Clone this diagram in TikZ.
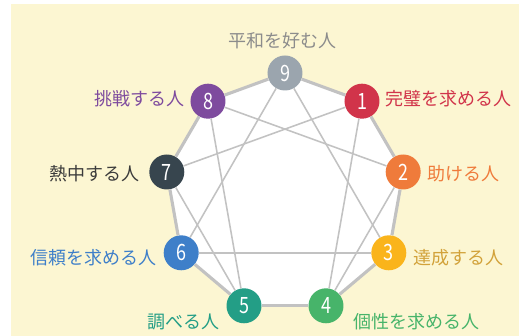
\documentclass[tikz,border=0pt]{standalone}
\usepackage{fontspec}
\setmainfont{Noto Sans CJK JP}
\usetikzlibrary{positioning}

\definecolor{paper}{HTML}{FCF6D2}
\definecolor{edge}{HTML}{C2C2C2}
\definecolor{type1}{HTML}{D1344A}
\definecolor{type2}{HTML}{EF7B3B}
\definecolor{type3}{HTML}{FAB41B}
\definecolor{type4}{HTML}{47B46A}
\definecolor{type5}{HTML}{239E86}
\definecolor{type6}{HTML}{3E7FC9}
\definecolor{type7}{HTML}{37454E}
\definecolor{type8}{HTML}{7E4B9E}
\definecolor{type9}{HTML}{9BA5AE}
\definecolor{text3}{HTML}{D2A23A}
\definecolor{text7}{HTML}{3B3B3B}
\definecolor{text9}{HTML}{8C8C8C}

\begin{document}
\begin{tikzpicture}
[type node/.style={circle,minimum size=0.875cm,inner sep=0pt,text=white,font=\fontsize{16}{16}\selectfont},
  type label/.style={inner sep=0pt,font=\fontsize{12.8}{15}\selectfont},
  outer/.style={draw=edge,line width=2.2pt},
  inner/.style={draw=edge,line width=1.1pt}]

  \useasboundingbox (0,0) rectangle (12.975,8.4);
  \fill[paper] (0.275,0) rectangle (12.975,8.3);

  \coordinate (p9) at (7.125,6.575);
  \coordinate (p1) at (9.05,5.87);
  \coordinate (p2) at (10.08,4.1);
  \coordinate (p3) at (9.72,2.08);
  \coordinate (p4) at (8.15,0.755);
  \coordinate (p5) at (6.10,0.755);
  \coordinate (p6) at (4.53,2.08);
  \coordinate (p7) at (4.17,4.1);
  \coordinate (p8) at (5.20,5.87);

  \fill[white] (p9) -- (p1) -- (p2) -- (p3) -- (p4) -- (p5) -- (p6) -- (p7) -- (p8) -- cycle;

  \foreach \n in {1,...,9}
    \node[type node,fill=type\n] (n\n) at (p\n) {\scalebox{0.8}[1]{\n}};

  \node[type label,text=text9] (t9) at (7.07,7.38) {平和を好む人};
  \node[type label,text=type1,anchor=west] (t1) at (9.63,5.93) {完璧を求める人};
  \node[type label,text=type2,anchor=west] (t2) at (10.68,4.07) {助ける人};
  \node[type label,text=text3,anchor=west] (t3) at (10.33,1.96) {達成する人};
  \node[type label,text=type4,anchor=west] (t4) at (8.82,0.35) {個性を求める人};
  \node[type label,text=type5,anchor=east] (t5) at (5.5,0.35) {調べる人};
  \node[type label,text=type6,anchor=east] (t6) at (3.92,1.96) {信頼を求める人};
  \node[type label,text=text7,anchor=east] (t7) at (3.5,4.07) {熱中する人};
  \node[type label,text=type8,anchor=east] (t8) at (4.63,5.93) {挑戦する人};

  \foreach \from/\to in {9/1,1/2,2/3,3/4,4/5,5/6,6/7,7/8,8/9}
    \draw[outer] (n\from) -- (n\to);

  \foreach \from/\to in {1/4,4/2,2/8,8/5,5/7,7/1,9/3,3/6,6/9}
    \draw[inner] (n\from) -- (n\to);

\end{tikzpicture}
\end{document}
